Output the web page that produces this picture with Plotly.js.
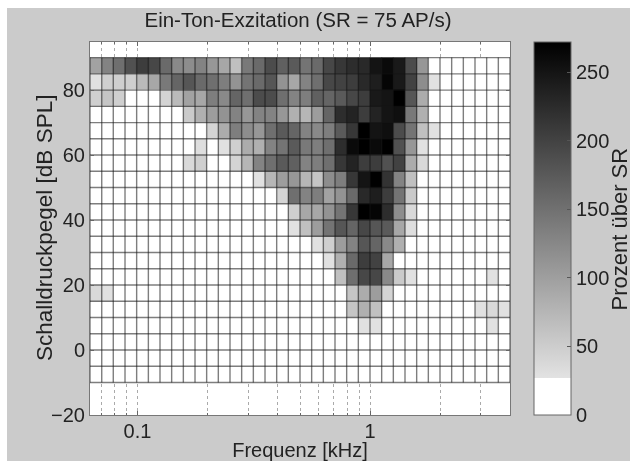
<!DOCTYPE html>
<html>
<head>
<meta charset="utf-8">
<script src="https://cdn.plot.ly/plotly-3.0.1.min.js"></script>
<style>
html,body{margin:0;padding:0;background:#ffffff;overflow:hidden}
#bg{position:absolute;left:7px;top:8px;width:623px;height:453px;background:#cbcbcb}
#chart{position:absolute;left:0;top:0;width:630px;height:461px;filter:blur(0.4px)}
</style>
</head>
<body>
<div id="bg"></div>
<div id="chart"></div>
<script>
// Bin edges of the response map
const freqEdges = [0.0625,0.0702,0.0787,0.0884,0.0992,0.1114,0.125,0.1403,0.1575,0.1768,0.1984,0.2227,0.25,0.2806,0.315,0.3536,0.3969,0.4454,0.5,0.5612,0.63,0.7071,0.7937,0.8909,1,1.1225,1.2599,1.4142,1.5874,1.7818,2,2.2449,2.5198,2.8284,3.1748,3.5636,4];
const levelEdges = [90,85,80,75,70,65,60,55,50,45,40,35,30,25,20,15,10,5,0,-5,-10];
const minorTicks = [0.07,0.08,0.09,0.2,0.3,0.4,0.5,0.6,0.7,0.8,0.9,2,3];
const xTickVals = [0.1,1];
const xTickText = ['0.1','1'];
const yTickVals = [-20,0,20,40,60,80];
const barTicks = [0,50,100,150,200,250];

// Percent above SR, one row per level band, from 85-90 dB down to -10--5 dB
const row85  = [97,130,152,184,206,195,157,124,119,130,108,91,64,141,157,190,168,174,146,157,195,212,223,228,250,261,245,190,108,0,0,0,0,0,0,0];
const row80  = [28,48,48,48,70,91,141,163,179,157,152,135,113,146,157,179,113,91,130,152,195,201,206,228,239,267,245,201,119,28,0,0,0,0,0,0];
const row75  = [48,59,48,0,0,0,42,70,97,91,135,124,163,152,190,190,152,130,135,168,163,174,195,206,245,250,272,179,86,0,0,0,0,0,0,0];
const row70  = [0,0,0,0,0,0,0,0,53,81,102,113,130,108,130,130,108,81,75,102,163,223,234,206,234,250,256,141,81,0,0,0,0,0,0,0];
const row65  = [0,0,0,0,0,0,0,0,0,0,42,86,135,119,108,152,174,163,130,124,135,174,212,272,250,256,190,146,64,28,0,0,0,0,0,0];
const row60  = [0,0,0,0,0,0,0,0,0,31,0,28,48,86,81,130,146,174,141,135,152,223,261,272,261,272,184,108,28,0,0,0,0,0,0,0];
const row55  = [0,0,0,0,0,0,0,0,37,48,0,0,42,75,130,152,174,168,130,135,152,212,234,206,206,184,201,86,37,0,0,0,0,0,0,0];
const row50  = [0,0,0,0,0,0,0,0,0,0,0,0,0,0,28,75,102,108,75,59,119,135,212,250,272,217,130,64,0,0,0,0,0,0,0,0];
const row45  = [0,0,0,0,0,0,0,0,0,0,0,0,0,0,0,0,42,152,130,135,97,113,157,228,239,206,146,53,0,0,0,0,0,0,0,0];
const row40  = [0,0,0,0,0,0,0,0,0,0,0,0,0,0,0,0,0,48,91,91,113,146,212,272,267,223,119,37,0,0,0,0,0,0,0,0];
const row35  = [0,0,0,0,0,0,0,0,0,0,0,0,0,0,0,0,0,28,64,102,146,179,163,195,179,174,91,31,0,0,0,0,0,0,0,0];
const row30  = [0,0,0,0,0,0,0,0,0,0,0,0,0,0,0,0,0,0,0,28,48,102,130,179,163,124,81,0,0,0,0,0,0,0,0,0];
const row25  = [0,0,0,0,0,0,0,0,0,0,0,0,0,0,0,0,0,0,0,0,28,81,157,206,201,91,0,0,0,0,0,0,0,0,0,0];
const row20  = [0,0,0,0,0,0,0,0,0,0,0,0,0,0,0,0,0,0,0,0,0,64,152,195,195,124,53,28,0,0,0,0,0,0,28,0];
const row15  = [37,28,0,0,0,0,0,0,0,0,0,0,0,0,0,0,0,0,0,0,0,0,59,86,102,42,0,0,0,0,0,0,0,0,0,0];
const row10  = [0,0,0,0,0,0,0,0,0,0,0,0,0,0,0,0,0,0,0,0,0,0,59,81,64,0,0,0,0,0,0,0,0,28,37,28];
const row5   = [0,0,0,0,0,0,0,0,0,0,0,0,0,0,0,0,0,0,0,0,0,0,0,28,28,0,0,0,0,0,0,0,0,0,28,0];
const row0   = [0,0,0,0,0,0,0,0,0,0,0,0,0,0,0,0,0,0,0,0,0,0,0,0,0,0,0,0,0,0,0,0,0,0,0,0];
const rowM5  = [0,0,0,0,0,0,0,0,0,0,0,0,0,0,0,0,0,0,0,0,0,0,0,0,0,0,0,0,0,0,0,0,0,0,0,0];
const rowM10 = [0,0,0,0,0,0,0,0,0,0,0,0,0,0,0,0,0,0,0,0,0,0,0,0,0,0,0,0,0,0,0,0,0,0,0,0];
const rows = [row85,row80,row75,row70,row65,row60,row55,row50,row45,row40,row35,row30,row25,row20,row15,row10,row5,row0,rowM5,rowM10];

const ink = '#222222';
const fontFam = 'Liberation Sans, Arial, sans-serif';

// Cell outlines follow the bin edges
const gx = [], gy = [];
const fMin = freqEdges[0], fMax = freqEdges[freqEdges.length-1];
const lMax = levelEdges[0], lMin = levelEdges[levelEdges.length-1];
freqEdges.forEach(f => { gx.push(f,f,null); gy.push(lMin,lMax,null); });
levelEdges.forEach(l => { gx.push(fMin,fMax,null); gy.push(l,l,null); });

const heat = {
  type:'heatmap', x:freqEdges, y:levelEdges, z:rows, zmin:0, zmax:272,
  colorscale:[[0,'#ffffff'],[0.1,'#ffffff'],[0.1,'#e2e2e2'],[1,'#000000']],
  hoverinfo:'skip',
  colorbar:{
    x:(534-90)/420, xref:'paper', xanchor:'left', thickness:37, thicknessmode:'pixels',
    y:0, yanchor:'bottom', yref:'paper', len:1, lenmode:'fraction',
    outlinecolor:'#666666', outlinewidth:1, xpad:0, ypad:0,
    tickvals:barTicks, ticks:'inside', ticklen:4, tickcolor:'#555555',
    tickfont:{family:fontFam,size:20,color:ink}
  }
};
const grid = {
  type:'scatter', mode:'lines', x:gx, y:gy, connectgaps:false,
  line:{color:'rgba(20,20,20,0.55)', width:1.4}, hoverinfo:'skip', showlegend:false
};

Plotly.newPlot('chart',[heat,grid],{
  width:630, height:461, autosize:false, showlegend:false,
  paper_bgcolor:'rgba(0,0,0,0)', plot_bgcolor:'#ffffff',
  margin:{l:90,r:120,t:42,b:46,pad:0},
  title:{text:'Ein-Ton-Exzitation (SR = 75 AP/s)', x:298/630, xanchor:'center', y:1-20/461, yanchor:'middle',
    font:{family:fontFam,size:20.5,color:ink}},
  xaxis:{
    type:'log', range:[Math.log10(fMin),Math.log10(fMax)],
    tickvals:xTickVals, ticktext:xTickText, ticks:'inside', ticklen:4, tickcolor:'#666666',
    ticklabelstandoff:-2,
    showline:true, linecolor:'#777777', linewidth:1, mirror:'allticks',
    showgrid:true, gridcolor:'#aaaaaa', griddash:'dot', gridwidth:1, zeroline:false,
    minor:{tickvals:minorTicks, ticks:'inside', ticklen:2, tickcolor:'#666666', showgrid:true, gridcolor:'#aaaaaa', griddash:'dot', gridwidth:1},
    tickfont:{family:fontFam,size:20,color:ink},
    title:{text:'Frequenz [kHz]', font:{family:fontFam,size:20,color:ink}, standoff:7}
  },
  yaxis:{
    range:[-20,94.8], tickvals:yTickVals, ticks:'inside', ticklen:4, tickcolor:'#666666',
    showline:true, linecolor:'#777777', linewidth:1, mirror:'allticks',
    showgrid:false, zeroline:false,
    tickfont:{family:fontFam,size:20,color:ink}
  },
  annotations:[
    {text:'Schalldruckpegel [dB SPL]', xref:'paper', yref:'paper', x:(44-90)/420, y:(415-228)/373,
     xanchor:'center', yanchor:'middle', textangle:-90, showarrow:false, font:{family:fontFam,size:22.5,color:ink}},
    {text:'Prozent über SR', xref:'paper', yref:'paper', x:(619-90)/420, y:(415-229.5)/373,
     xanchor:'center', yanchor:'middle', textangle:-90, showarrow:false, font:{family:fontFam,size:22,color:ink}}
  ]
},{staticPlot:true,displayModeBar:false});
</script>
</body>
</html>
